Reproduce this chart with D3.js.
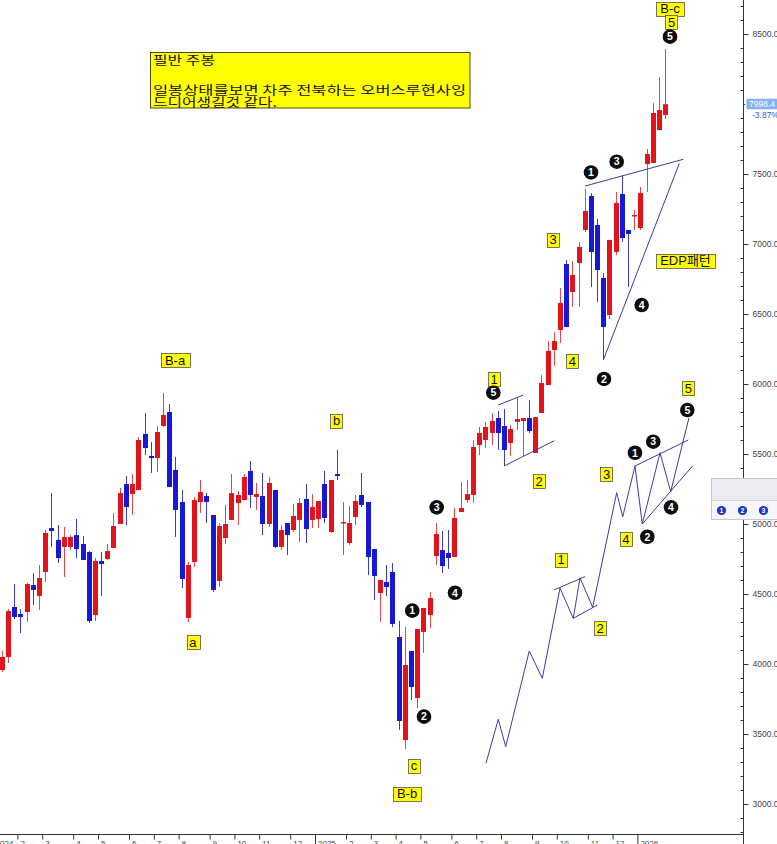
<!DOCTYPE html>
<html><head><meta charset="utf-8">
<script src="https://cdn.jsdelivr.net/npm/d3@7"></script>
<style>
html,body{margin:0;padding:0;background:#fff;overflow:hidden}
svg{display:block}
</style></head><body>
<svg id="chart" width="777" height="844"></svg>
<script>
// ---------- DATA (weekly candles, Jan 12 2024 .. Jan 30 2026) ----------
const opens = [3957,4050,4407,4357,4371,4564,4486,4657,4971,4886,4836,4836,4921,4857,4800,4350,4736,4750,4829,5000,
5286,5214,5243,5643,5486,5471,5700,5800,5386,5157,4329,4729,5157,5200,5064,4593,4900,5029,5150,5171,
5379,5193,5200,5000,5243,4836,5007,4957,5029,5179,5029,5036,5286,4943,5357,5007,4864,5050,5207,5157,
4821,4507,4586,4657,4193,3457,4093,3757,4229,4350,4771,4814,4793,4764,5086,5171,5207,5564,5600,5650,
5757,5700,5579,5729,5736,5757,5507,5793,5993,6243,6386,6857,6657,6864,7100,7343,7136,6757,6493,6943,
7357,7100,7200,7114,7571,7579,7814,7921];
const highs = [4093,4393,4571,4393,4579,4650,4707,4957,5221,4993,4979,4921,5036,4914,4807,4757,4800,4857,5079,5257,
5343,5357,5621,5793,5586,5700,5936,5857,5479,5243,4729,5193,5314,5221,5064,5007,5136,5357,5236,5357,
5450,5293,5364,5336,5243,4993,5007,5143,5186,5286,5214,5164,5379,5314,5529,5157,5129,5207,5364,5157,
4821,4600,4707,4721,4307,4264,4093,4250,4400,4514,5007,4950,4957,5114,5300,5314,5600,5693,5729,5793,
5807,5821,5707,5900,5757,5886,5764,6064,6307,6371,6686,6886,6879,7014,7393,7364,7179,6793,7029,7371,
7493,7100,7243,7407,7679,8007,8193,8393];
const lows = [3943,4007,4321,4221,4300,4421,4386,4586,4836,4721,4621,4814,4757,4743,4293,4307,4486,4743,4829,5000,
4993,5064,5243,5493,5364,5371,5693,5264,4907,4543,4300,4693,5079,5007,4514,4550,4857,5029,4993,5171,
5114,5100,4921,4979,4829,4814,4779,4943,4871,4864,4971,4971,5007,4936,5314,4779,4850,4993,5121,4636,
4457,4300,4486,4264,3529,3393,3743,3686,4079,4257,4707,4650,4679,4764,5086,5150,5150,5493,5543,5564,
5529,5414,5486,5671,5486,5650,5507,5793,5993,6129,6293,6407,6550,6550,7086,6693,6586,6179,6464,6921,
7014,6693,7100,7100,7371,7579,7814,7893];
const closes = [4050,4379,4336,4336,4571,4529,4614,4936,4950,4757,4907,4907,4821,4743,4307,4736,4714,4807,4986,5221,
5121,5286,5600,5543,5471,5657,5779,5264,5100,4607,4707,5171,5229,5157,4529,4986,5000,5221,5207,5336,
5207,5214,5000,5293,4836,4957,4921,5057,5150,4964,5121,5164,5043,5314,5343,5014,5007,5164,5136,4764,
4629,4600,4550,4286,3593,3993,3836,4250,4400,4471,4929,4700,4757,5043,5114,5214,5550,5650,5693,5736,
5650,5529,5679,5750,5757,5664,5764,6007,6236,6307,6579,6407,6779,6979,7236,6943,6814,6407,7029,7293,
7043,7071,7207,7364,7643,7936,7957,7998.4];

const firstWeek = new Date(2024, 0, 12);          // first candle (Friday)
const yTicks = [3000,3500,4000,4500,5000,5500,6000,6500,7000,7500,8000,8500];
const hiddenTick = 8000;                          // label covered by the price tag
const lastPrice = "7998.4";
const lastChange = "-3.87%";

// wave labels in yellow boxes: [text, weekIndex, value]
const boxLabels = [
  ["B-a",27.92,6171],["a",30.82,4157],["b",53.97,5739],["c",66.47,3275],["B-b",65.34,3075],
  ["1",79.37,6036],["2",86.63,5307],["3",88.89,7032],["4",92.03,6164],
  ["B-c",107.76,8682],["5",108.0,8586],["EDP패턴",110.26,6882],
  ["1",90.18,4746],["2",96.47,4257],["3",97.52,5354],["4",100.66,4893],["5",110.74,5969]
];
// black circled sub-wave numbers: [text, weekIndex, value]
const circleLabels = [
  ["1",66.19,4381],["2",68.08,3624],["3",70.13,5119],["4",73.08,4509],["5",79.26,5938],
  ["1",95.02,7511],["2",97.11,6036],["3",99.16,7588],["4",103.19,6564],["5",107.76,8481],
  ["1",102.11,5509],["2",104.10,4909],["3",105.06,5588],["4",107.92,5119],["5",110.55,5814]
];
// trend lines: [[idx,val],[idx,val]]
const trendLines = [
  [[80.06,5850],[84.10,5921]], [[81.03,5415],[89.10,5595]],          // flag in wave 1-2
  [[94.05,7414],[109.90,7605]], [[97.00,6171],[109.26,7575]],        // EDP wedge
  [[89.05,4529],[94.05,4624]], [[92.16,4326],[96.03,4421]],          // schematic flag
  [[102.11,5414],[110.71,5600]], [[103.29,5000],[111.42,5416]]       // schematic wedge
];
// schematic wave path [idx,val]
const schematicIdx = [78.08,80.06,81.26,85.06,87.16,90.02,92.16,93.24,95.29,99.16,100.13,102.11,103.29,106.15,107.87,110.82];
const schematicVal = [3291,3605,3409,4093,3898,4541,4326,4616,4405,5224,5052,5414,5000,5509,5231,5759];

const noteLines = ["필반 주봉", "", "일봉상태를보면 차주 전북하는 오버스루현사잉", "드디어생길것 같다."];

// ---------- SCALES ----------
const svg = d3.select("#chart");
const x = d3.scaleLinear().domain([0, 107]).range([1.9, 665.3]);
const y = d3.scaleLinear().domain([3000, 8500]).range([804, 34]);
const AXIS_X = 743.5, AXIS_Y = 834.5;

const UP = "#e3131b", DOWN = "#1717d6";
const UPW = "#dd4a50", DOWNW = "#3c3cc4";
const LINE = "#3c3ca0";

// ---------- CANDLES ----------
const candles = opens.map((o,i)=>({i,o,h:highs[i],l:lows[i],c:closes[i]}));
const cg = svg.append("g");
const cx = d => Math.round(x(d.i));
cg.selectAll("line.wick").data(candles).join("line")
  .attr("class","wick")
  .attr("x1", d=>cx(d)+0.5).attr("x2", d=>cx(d)+0.5)
  .attr("y1", d=>y(d.h)).attr("y2", d=>y(d.l))
  .attr("stroke", d=>d.c>=d.o?UPW:DOWNW).attr("stroke-width",1);
cg.selectAll("rect.body").data(candles).join("rect")
  .attr("class","body")
  .attr("x", d=>cx(d)-2).attr("width",5)
  .attr("y", d=>y(Math.max(d.o,d.c)))
  .attr("height", d=>Math.max(1.5, Math.abs(y(d.o)-y(d.c))))
  .attr("fill", d=>d.c>=d.o?UP:DOWN);

// ---------- LINES ----------
const lg = svg.append("g").attr("fill","none").attr("stroke",LINE).attr("stroke-width",1);
trendLines.forEach(seg=>{
  lg.append("line").attr("x1",x(seg[0][0])).attr("y1",y(seg[0][1]))
    .attr("x2",x(seg[1][0])).attr("y2",y(seg[1][1]));
});
lg.append("path").datum(schematicIdx.map((d,i)=>[d,schematicVal[i]]))
  .attr("d", d3.line().x(d=>x(d[0])).y(d=>y(d[1])));

// ---------- RIGHT AXIS ----------
svg.append("line").attr("x1",AXIS_X).attr("x2",AXIS_X).attr("y1",0).attr("y2",844).attr("stroke","#333");
const minor = d3.range(2700, 8800, 100).filter(v=>v%500!==0);
const yAxisMinor = d3.axisRight(y).tickValues(minor).tickSize(-3).tickFormat("");
const yAxisMajor = d3.axisRight(y).tickValues(yTicks).tickSize(5).tickPadding(4)
  .tickFormat(d=> d===hiddenTick ? "" : d3.format(".1f")(d));
const minG = svg.append("g").attr("transform",`translate(${AXIS_X},0)`).call(yAxisMinor);
const majG = svg.append("g").attr("transform",`translate(${AXIS_X},0)`).call(yAxisMajor);
[minG, majG].forEach(g=>{ g.select(".domain").remove(); g.selectAll("line").attr("stroke","#333"); });
majG.selectAll("text").attr("font-family","Liberation Sans, Arial, sans-serif").attr("font-size","8.5px").attr("fill","#444");

// price tag
svg.append("rect").attr("x",745).attr("y",96).attr("width",32).attr("height",23).attr("fill","#fff");
svg.append("rect").attr("x",746.5).attr("y",y(+lastPrice)-5.5).attr("width",31).attr("height",10.5).attr("fill","#86b0f2");
svg.append("text").attr("x",749).attr("y",y(+lastPrice)+3).text(lastPrice)
  .attr("font-family","Liberation Sans, Arial, sans-serif").attr("font-size","8.5px").attr("fill","#fff");
svg.append("text").attr("x",752).attr("y",y(+lastPrice)+13.5).text(lastChange)
  .attr("font-family","Liberation Sans, Arial, sans-serif").attr("font-size","8.5px").attr("fill","#2a5bd7");

// ---------- BOTTOM AXIS ----------
svg.append("line").attr("x1",0).attr("x2",AXIS_X).attr("y1",AXIS_Y).attr("y2",AXIS_Y).attr("stroke","#333");
const months = d3.timeMonth.range(new Date(2024,0,1), new Date(2026,1,1));
const monthTicks = months.map(m=>{
  const f = d3.timeFriday.ceil(m);
  const idx = Math.round((f - firstWeek)/(7*864e5));
  return {idx, label: m.getMonth()===0 ? String(m.getFullYear()) : String(m.getMonth()+1), year: m.getMonth()===0};
});
const xAxis = d3.axisBottom(x).tickValues(monthTicks.map(d=>d.idx-0.5))
  .tickSize(5).tickFormat((d,i)=>monthTicks[i].label);
const xg = svg.append("g").attr("transform",`translate(0,${AXIS_Y})`).call(xAxis);
xg.select(".domain").remove();
xg.selectAll(".tick line").attr("stroke","#333").attr("y2",(d,i)=>monthTicks[i].year?10:5);
xg.selectAll(".tick text").attr("text-anchor","start").attr("x",2.5).attr("y",5.5)
  .attr("font-family","Liberation Sans, Arial, sans-serif").attr("font-size","8px").attr("fill","#444");

// ---------- NOTE BOX ----------
svg.append("rect").attr("x",150.5).attr("y",52.5).attr("width",319.5).attr("height",55.5)
  .attr("fill","#ffff00").attr("stroke","#4a4a1a");
const ng = svg.append("g")
  .attr("font-family","Noto Sans CJK KR, sans-serif").attr("font-size","12px").attr("fill","#111");
const noteY = [65, 80, 94.5, 106.5];
const noteW = [62, 0, 313, 124];
noteLines.forEach((t,i)=>{
  if(t) ng.append("text").attr("x",153).attr("y",noteY[i]).text(t)
    .attr("textLength",noteW[i]).attr("lengthAdjust","spacingAndGlyphs");
});

// ---------- YELLOW LABELS ----------
const bg = svg.append("g");
boxLabels.forEach(([t,i,v])=>{
  const g = bg.append("g");
  const tx = g.append("text").attr("x",x(i)).attr("y",y(v)).attr("dy","0.36em")
    .attr("text-anchor","middle").attr("font-family","Liberation Sans, Noto Sans CJK KR, sans-serif")
    .attr("font-size","13px").attr("fill","#111").text(t);
  const b = tx.node().getBBox();
  const pad = t.length > 1 ? 4 : 2.5;
  g.insert("rect","text").attr("x",Math.round(b.x-pad)+0.5).attr("y",Math.round(y(v)-7)+0.5)
    .attr("width",Math.round(b.width+2*pad)).attr("height",14)
    .attr("fill","#ffff00").attr("stroke","#555").attr("stroke-width",0.8);
});

// ---------- BLACK CIRCLES ----------
const kg = svg.append("g");
circleLabels.forEach(([t,i,v])=>{
  kg.append("circle").attr("cx",x(i)).attr("cy",y(v)).attr("r",7.3).attr("fill","#0d0d0d");
  kg.append("text").attr("x",x(i)).attr("y",y(v)).attr("dy","0.36em").attr("text-anchor","middle")
    .attr("font-family","Liberation Sans, Arial, sans-serif").attr("font-weight","bold")
    .attr("font-size","10.5px").attr("fill","#fff").text(t);
});

// ---------- FLOATING PANEL ----------
const pg = svg.append("g");
pg.append("rect").attr("x",711.5).attr("y",478.5).attr("width",70).attr("height",41)
  .attr("fill","#f6f6f9").attr("stroke","#c8c8d0");
pg.append("rect").attr("x",712).attr("y",479).attr("width",70).attr("height",21).attr("fill","#ebebf0");
pg.append("line").attr("x1",712).attr("x2",777).attr("y1",500.5).attr("y2",500.5).attr("stroke","#d6d6de");
["1","2","3"].forEach((t,k)=>{
  const px = 721.5 + k*21;
  pg.append("circle").attr("cx",px).attr("cy",510.5).attr("r",4.6).attr("fill","#1b33c9");
  pg.append("text").attr("x",px).attr("y",510.5).attr("dy","0.36em").attr("text-anchor","middle")
    .attr("font-family","Liberation Sans, Arial, sans-serif").attr("font-weight","bold")
    .attr("font-size","7px").attr("fill","#fff").text(t);
});
</script>
</body></html>
